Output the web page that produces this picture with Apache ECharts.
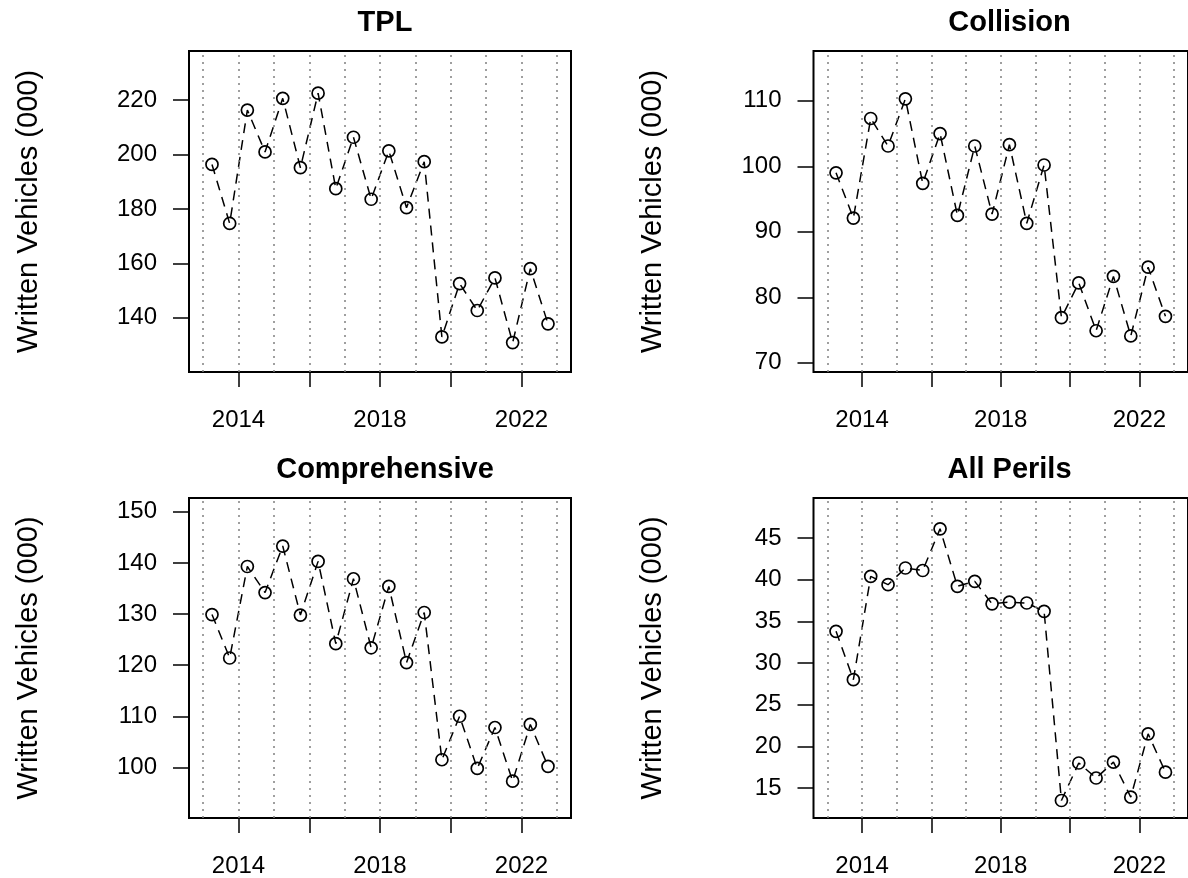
<!DOCTYPE html>
<html>
<head>
<meta charset="utf-8">
<script src="https://cdn.jsdelivr.net/npm/echarts@6/dist/echarts.min.js"></script>
<style>
  html, body { margin: 0; padding: 0; background: #fff; }
  #chart { width: 1188px; height: 878px; }
</style>
</head>
<body>
<div id="chart"></div>
<script>
// half-year periods
const periods = [2013.25, 2013.75, 2014.25, 2014.75, 2015.25, 2015.75, 2016.25, 2016.75,
  2017.25, 2017.75, 2018.25, 2018.75, 2019.25, 2019.75, 2020.25, 2020.75,
  2021.25, 2021.75, 2022.25, 2022.75]

const tplValues = [196.4, 174.7, 216.4, 201.0, 220.7, 195.2, 222.6, 187.5, 206.4, 183.6,
  201.4, 180.5, 197.4, 133.0, 152.6, 142.7, 154.7, 130.9, 158.1, 137.8]
const collisionValues = [99.0, 92.1, 107.3, 103.1, 110.3, 97.4, 105.0, 92.5, 103.1, 92.7,
  103.3, 91.3, 100.2, 76.9, 82.2, 74.9, 83.2, 74.1, 84.6, 77.1]
const comprehensiveValues = [129.9, 121.4, 139.3, 134.2, 143.3, 129.8, 140.3, 124.2, 136.9, 123.4,
  135.4, 120.5, 130.3, 101.5, 110.0, 99.8, 107.8, 97.3, 108.4, 100.2]
const allPerilsValues = [33.8, 28.0, 40.4, 39.4, 41.4, 41.1, 46.1, 39.2, 39.8, 37.1,
  37.3, 37.2, 36.2, 13.5, 18.0, 16.2, 18.1, 13.9, 21.5, 16.9]

const titles = ['TPL', 'Collision', 'Comprehensive', 'All Perils']

// y tick labels per panel
const tplTicks = [140, 160, 180, 200, 220]
const collisionTicks = [70, 80, 90, 100, 110]
const comprehensiveTicks = [100, 110, 120, 130, 140, 150]
const allPerilsTicks = [15, 20, 25, 30, 35, 40, 45]

// y ranges per panel
const tplRange = [120.1, 238.1]
const collisionRange = [68.6, 117.6]
const comprehensiveRange = [90.1, 152.7]
const allPerilsRange = [11.4, 49.8]

// x axis
const xRange = [2012.6, 2023.4]
const xTicks = [2014, 2016, 2018, 2020, 2022]
const xLabels = [2014, 2018, 2022]
const gridYears = [2013, 2014, 2015, 2016, 2017, 2018, 2019, 2020, 2021, 2022, 2023]

const FONT = 'Liberation Sans, Arial, Helvetica, sans-serif'

const panels = [
  { values: tplValues, ticks: tplTicks, range: tplRange, left: 189, top: 51 },
  { values: collisionValues, ticks: collisionTicks, range: collisionRange, left: 813.5, top: 51 },
  { values: comprehensiveValues, ticks: comprehensiveTicks, range: comprehensiveRange, left: 189, top: 498 },
  { values: allPerilsValues, ticks: allPerilsTicks, range: allPerilsRange, left: 813.5, top: 498 }
]

const PW = 382
const PH = 321

const chart = echarts.init(document.getElementById('chart'), null, { renderer: 'canvas' })

const option = {
  backgroundColor: '#fff',
  animation: false,
  title: panels.map((p, i) => ({
    text: titles[i],
    left: p.left + PW / 2,
    top: p.top - 48,
    textAlign: 'center',
    textStyle: { fontFamily: FONT, fontSize: 29, fontWeight: 'bold', color: '#000' }
  })),
  grid: panels.map(p => ({
    left: p.left,
    top: p.top,
    width: PW,
    height: PH,
    show: true,
    borderColor: '#000',
    borderWidth: 2,
    backgroundColor: 'transparent'
  })),
  xAxis: panels.map((p, i) => ({
    type: 'value',
    gridIndex: i,
    min: xRange[0],
    max: xRange[1],
    axisLine: { show: false },
    splitLine: { show: false },
    axisTick: {
      show: true,
      length: 15,
      customValues: xTicks,
      lineStyle: { color: '#000', width: 1.5 }
    },
    axisLabel: {
      customValues: xLabels,
      formatter: v => String(v),
      margin: 36,
      fontFamily: FONT,
      fontSize: 24,
      color: '#000'
    }
  })),
  yAxis: panels.map((p, i) => ({
    type: 'value',
    gridIndex: i,
    min: p.range[0],
    max: p.range[1],
    name: 'Written Vehicles (000)',
    nameLocation: 'middle',
    nameRotate: 90,
    nameGap: 146,
    nameTextStyle: { fontFamily: FONT, fontSize: 29, color: '#000' },
    axisLine: { show: false },
    splitLine: { show: false },
    axisTick: {
      show: true,
      length: 16,
      customValues: p.ticks,
      lineStyle: { color: '#000', width: 1.5 }
    },
    axisLabel: {
      customValues: p.ticks,
      formatter: v => String(v),
      margin: 32,
      fontFamily: FONT,
      fontSize: 24,
      color: '#000'
    }
  })),
  series: panels.map((p, i) => ({
    type: 'line',
    xAxisIndex: i,
    yAxisIndex: i,
    data: periods.map((x, k) => [x, p.values[k]]),
    symbol: 'circle',
    symbolSize: 12,
    showAllSymbol: true,
    lineStyle: { color: '#000', width: 1.5, type: [10, 7] },
    itemStyle: { color: 'rgba(255,255,255,0)', borderColor: '#000', borderWidth: 1.7 },
    silent: true,
    z: 3,
    markLine: {
      silent: true,
      symbol: 'none',
      label: { show: false },
      lineStyle: { color: '#808080', width: 1.5, type: [2, 5] },
      data: gridYears.map(y => ({ xAxis: y }))
    }
  }))
}

chart.setOption(option)
</script>
</body>
</html>
